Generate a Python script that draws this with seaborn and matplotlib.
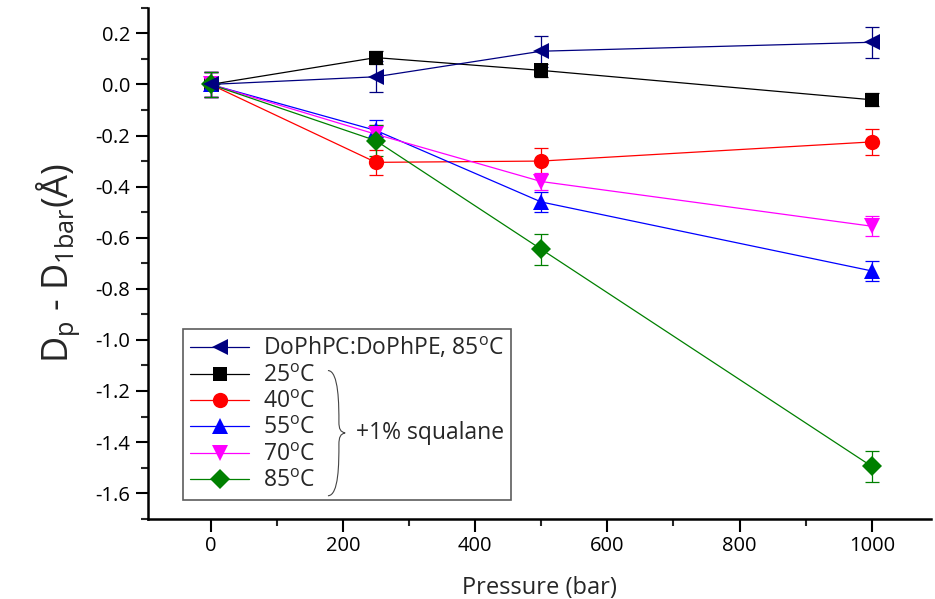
import numpy as np
import pandas as pd
import seaborn as sns
import matplotlib.pyplot as plt
from matplotlib.path import Path
from matplotlib.patches import PathPatch
from matplotlib.ticker import MultipleLocator

# Data
pressure = [0, 250, 500, 1000]
series_names = ['DoPhPC:DoPhPE, 85$^\\mathrm{o}$C', '25$^\\mathrm{o}$C', '40$^\\mathrm{o}$C',
                '55$^\\mathrm{o}$C', '70$^\\mathrm{o}$C', '85$^\\mathrm{o}$C']
dophpc_85 = [0.0, 0.03, 0.13, 0.165]
sq_25 = [0.0, 0.105, 0.055, -0.06]
sq_40 = [0.0, -0.305, -0.30, -0.225]
sq_55 = [0.0, -0.18, -0.46, -0.73]
sq_70 = [0.0, -0.195, -0.38, -0.555]
sq_85 = [0.0, -0.22, -0.645, -1.495]
err_dophpc_85 = [0.05, 0.06, 0.06, 0.06]
err_25 = [0.05, 0.025, 0.025, 0.025]
err_40 = [0.05, 0.05, 0.05, 0.05]
err_55 = [0.05, 0.04, 0.04, 0.04]
err_70 = [0.05, 0.035, 0.035, 0.04]
err_85 = [0.05, 0.06, 0.06, 0.06]

values = [dophpc_85, sq_25, sq_40, sq_55, sq_70, sq_85]
errors = [err_dophpc_85, err_25, err_40, err_55, err_70, err_85]
colors = ['#000080', '#000000', '#ff0000', '#0000ff', '#ff00ff', '#008000']
markers = ['<', 's', 'o', '^', 'v', 'D']
msizes = [12, 10, 11, 12, 12, 10]

# long table for seaborn
rows = []
for name, vals in zip(series_names, values):
    for p, v in zip(pressure, vals):
        rows.append({'pressure': p, 'delta': v, 'series': name})
df = pd.DataFrame(rows)

sns.set_style('ticks')
plt.rcParams['font.family'] = ['Open Sans', 'DejaVu Sans']
plt.rcParams['mathtext.fontset'] = 'custom'
plt.rcParams['mathtext.rm'] = 'Open Sans'

fig = plt.figure(figsize=(9.35, 5.99), dpi=100)
ax = fig.add_axes([0.158, 0.134, 0.838, 0.853])

for i, name in enumerate(series_names):
    ax.errorbar(pressure, values[i], yerr=errors[i], fmt='none', ecolor=colors[i],
                elinewidth=0.9, capsize=5, capthick=0.9, zorder=2)

n_before = len(ax.lines)
sns.lineplot(data=df, x='pressure', y='delta', hue='series', style='series',
             hue_order=series_names, style_order=series_names,
             palette=colors, markers=markers, dashes=False, linewidth=0.9,
             markeredgewidth=0, markersize=11, ax=ax, zorder=3, legend=False)
# seaborn can't set per-line sizes, adjust the marker size afterwards
for ln, ms in zip(ax.lines[n_before:], msizes):
    ln.set_markersize(ms)
ax.lines[n_before].set_zorder(4)

ax.xaxis.set_major_locator(MultipleLocator(200))
ax.xaxis.set_minor_locator(MultipleLocator(100))
ax.yaxis.set_major_locator(MultipleLocator(0.2))
ax.yaxis.set_minor_locator(MultipleLocator(0.1))
ax.set_yticks(ax.get_yticks())
ax.set_yticklabels([f'{t:.1f}' for t in ax.get_yticks()])
ax.set_xlim(-95, 1090)
ax.set_ylim(-1.7, 0.3)
ax.tick_params(which='major', length=9, width=1.5, labelsize=14.5, colors='black')
ax.tick_params(which='minor', length=5, width=1.5)
sns.despine(ax=ax)
for s in ['left', 'bottom']:
    ax.spines[s].set_linewidth(1.8)
    ax.spines[s].set_color('black')

ax.set_xlabel('Pressure (bar)', fontsize=17, labelpad=14)
ax.set_ylabel('D$_\\mathrm{p}$ - D$_\\mathrm{1bar}$(Å)', fontsize=26, labelpad=10)

# legend built from the drawn lines
handles = []
for i, name in enumerate(series_names):
    handles.append(plt.Line2D([], [], color=colors[i], marker=markers[i], markersize=msizes[i],
                              markeredgewidth=0, linewidth=0.9))
leg = ax.legend(handles, series_names, loc='lower left', bbox_to_anchor=(0.045, 0.037),
                borderaxespad=0, prop={'size': 16.5}, frameon=True, fancybox=False,
                edgecolor='#333333', handlelength=2.6, labelspacing=0.1,
                borderpad=0.3, handletextpad=0.6)
leg.get_frame().set_linewidth(1.2)
leg.set_zorder(5)

# brace and squalane note over the legend
verts = [(0.230, 0.29), (0.244, 0.29), (0.244, 0.22), (0.244, 0.19),
         (0.244, 0.175), (0.246, 0.17), (0.252, 0.168),
         (0.246, 0.166), (0.244, 0.16), (0.244, 0.145),
         (0.244, 0.11), (0.244, 0.045), (0.230, 0.045)]
codes = [Path.MOVETO, Path.CURVE4, Path.CURVE4, Path.CURVE4,
         Path.CURVE4, Path.CURVE4, Path.CURVE4,
         Path.CURVE4, Path.CURVE4, Path.CURVE4,
         Path.CURVE4, Path.CURVE4, Path.CURVE4]
brace = PathPatch(Path(verts, codes), transform=ax.transAxes, facecolor='none',
                  edgecolor='#444444', linewidth=0.8, zorder=6)
ax.add_patch(brace)
ax.text(0.266, 0.168, '+1% squalane', transform=ax.transAxes, fontsize=16.5,
        va='center', ha='left', zorder=6)

fig.savefig('out.png', dpi=100)
